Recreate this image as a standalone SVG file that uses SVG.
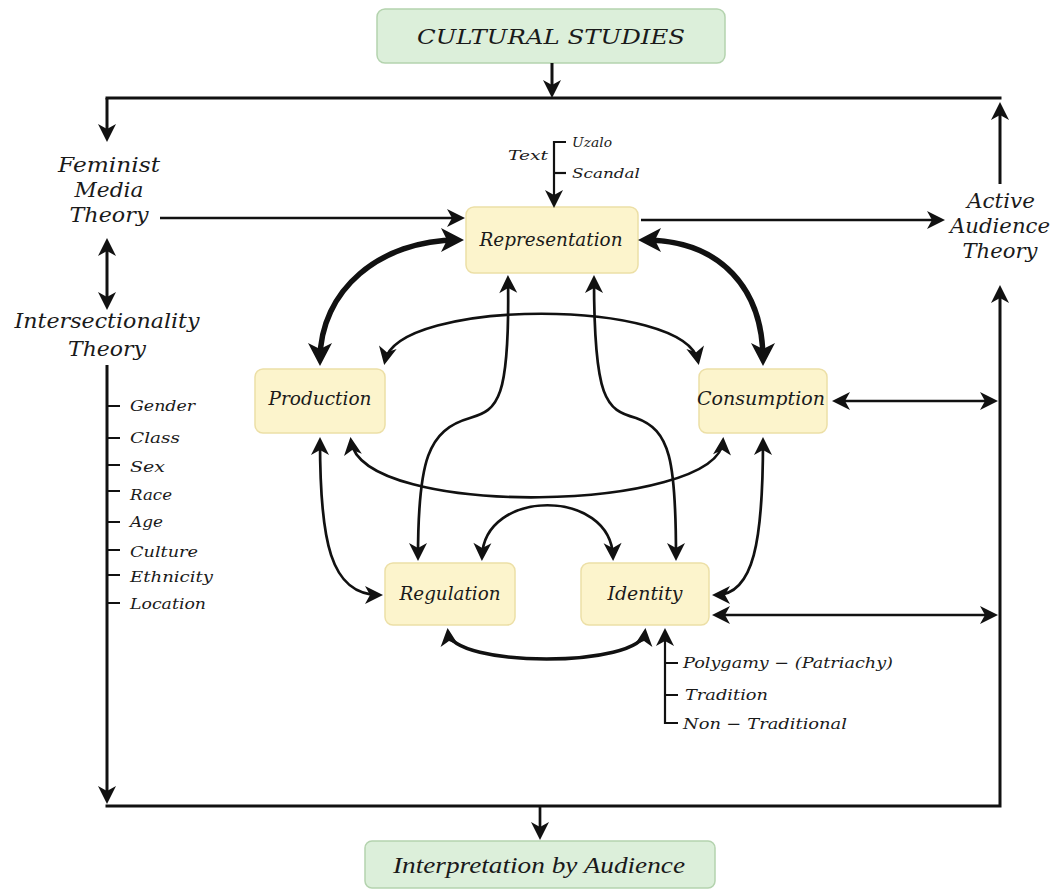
<svg xmlns="http://www.w3.org/2000/svg" width="1055" height="894" viewBox="0 0 1055 894">
<style>
.t{font-family:"DejaVu Serif","Liberation Serif",serif;font-style:italic;fill:#1a1a1a}
.ti{font-family:"Liberation Serif","DejaVu Serif",serif;font-style:italic;fill:#1a1a1a}
.yn{fill:#fcf4cc;stroke:#ecdfa6;stroke-width:1.5}
.gn{fill:#dcefda;stroke:#b4d3ae;stroke-width:1.5}
.fr{fill:none;stroke:#111;stroke-width:3}
.th{fill:none;stroke:#111;stroke-width:2.7}
.tk{fill:none;stroke:#111;stroke-width:5.5}
.ls{fill:none;stroke:#111;stroke-width:2.2}
</style>
<defs>
<marker id="m1" viewBox="-17 -11 23 22" refX="0" refY="0" markerWidth="23" markerHeight="22" markerUnits="userSpaceOnUse" orient="auto-start-reverse"><path d="M4,0 L-14,-9 L-9,0 L-14,9 Z" fill="#111"/></marker>
<marker id="mT" viewBox="-20 -14 28 28" refX="0" refY="0" markerWidth="28" markerHeight="28" markerUnits="userSpaceOnUse" orient="auto-start-reverse"><path d="M6,0 L-17,-12 L-11,0 L-17,12 Z" fill="#111"/></marker>
</defs>

<g id="cultural-studies">
<rect class="gn" x="377" y="9" width="348" height="54" rx="8"/>
<text class="t" x="551" y="44" font-size="21" text-anchor="middle" textLength="268" lengthAdjust="spacingAndGlyphs">CULTURAL STUDIES</text>
</g>
<g id="interpretation">
<rect class="gn" x="365" y="841" width="350" height="47" rx="7"/>
<text class="ti" x="539" y="873" font-size="23" text-anchor="middle" textLength="292" lengthAdjust="spacingAndGlyphs">Interpretation by Audience</text>
</g>
<g id="feminist">
<text class="t" x="109" y="172" font-size="20" text-anchor="middle" textLength="102" lengthAdjust="spacingAndGlyphs">Feminist</text>
<text class="t" x="109" y="197" font-size="20" text-anchor="middle" textLength="69" lengthAdjust="spacingAndGlyphs">Media</text>
<text class="t" x="109" y="222" font-size="20" text-anchor="middle" textLength="79" lengthAdjust="spacingAndGlyphs">Theory</text>
</g>
<g id="intersectionality">
<text class="t" x="107" y="328" font-size="20" text-anchor="middle" textLength="185" lengthAdjust="spacingAndGlyphs">Intersectionality</text>
<text class="t" x="107" y="356" font-size="20" text-anchor="middle" textLength="78" lengthAdjust="spacingAndGlyphs">Theory</text>
</g>
<g id="active-audience">
<text class="t" x="1001" y="208" font-size="20" text-anchor="middle" textLength="68" lengthAdjust="spacingAndGlyphs">Active</text>
<text class="t" x="1000" y="233" font-size="20" text-anchor="middle" textLength="100" lengthAdjust="spacingAndGlyphs">Audience</text>
<text class="t" x="1000" y="258" font-size="20" text-anchor="middle" textLength="75" lengthAdjust="spacingAndGlyphs">Theory</text>
</g>
<g id="representation">
<rect class="yn" x="466" y="207" width="172" height="66" rx="8"/>
<text class="t" x="551" y="246" font-size="18" text-anchor="middle" textLength="143" lengthAdjust="spacingAndGlyphs">Representation</text>
</g>
<g id="production">
<rect class="yn" x="255" y="369" width="130" height="64" rx="8"/>
<text class="t" x="320" y="405" font-size="18" text-anchor="middle" textLength="103" lengthAdjust="spacingAndGlyphs">Production</text>
</g>
<g id="consumption">
<rect class="yn" x="699" y="369" width="128" height="64" rx="8"/>
<text class="t" x="761" y="405" font-size="18" text-anchor="middle" textLength="128" lengthAdjust="spacingAndGlyphs">Consumption</text>
</g>
<g id="regulation">
<rect class="yn" x="385" y="563" width="130" height="62" rx="8"/>
<text class="t" x="450" y="600" font-size="18" text-anchor="middle" textLength="101" lengthAdjust="spacingAndGlyphs">Regulation</text>
</g>
<g id="identity">
<rect class="yn" x="581" y="563" width="128" height="62" rx="8"/>
<text class="t" x="645" y="600" font-size="18" text-anchor="middle" textLength="75" lengthAdjust="spacingAndGlyphs">Identity</text>
</g>

<g id="text-list">
<text class="t" x="548" y="160" font-size="13.5" text-anchor="end" textLength="40" lengthAdjust="spacingAndGlyphs">Text</text>
<text class="t" x="572" y="147" font-size="13.5" textLength="40" lengthAdjust="spacingAndGlyphs">Uzalo</text>
<text class="t" x="572" y="178" font-size="13.5" textLength="68" lengthAdjust="spacingAndGlyphs">Scandal</text>
</g>
<g id="intersection-list">
<text class="t" x="130" y="411" font-size="15.5" textLength="65" lengthAdjust="spacingAndGlyphs">Gender</text>
<text class="t" x="130" y="443" font-size="15.5" textLength="50" lengthAdjust="spacingAndGlyphs">Class</text>
<text class="t" x="130" y="472" font-size="15.5" textLength="35" lengthAdjust="spacingAndGlyphs">Sex</text>
<text class="t" x="130" y="500" font-size="15.5" textLength="42" lengthAdjust="spacingAndGlyphs">Race</text>
<text class="t" x="130" y="527" font-size="15.5" textLength="33" lengthAdjust="spacingAndGlyphs">Age</text>
<text class="t" x="130" y="557" font-size="15.5" textLength="68" lengthAdjust="spacingAndGlyphs">Culture</text>
<text class="t" x="130" y="582" font-size="15.5" textLength="83" lengthAdjust="spacingAndGlyphs">Ethnicity</text>
<text class="t" x="130" y="609" font-size="15.5" textLength="76" lengthAdjust="spacingAndGlyphs">Location</text>
</g>
<g id="identity-list">
<text class="t" x="683" y="668" font-size="15.5" textLength="210" lengthAdjust="spacingAndGlyphs">Polygamy − (Patriachy)</text>
<text class="t" x="685" y="700" font-size="15.5" textLength="83" lengthAdjust="spacingAndGlyphs">Tradition</text>
<text class="t" x="683" y="729" font-size="15.5" textLength="164" lengthAdjust="spacingAndGlyphs">Non − Traditional</text>
</g>

<g id="connectors">
<path class="fr" d="M552 63 L552 94" marker-end="url(#m1)"/>
<path class="fr" d="M105.5 98 L1001.5 98"/>
<path class="fr" d="M107 98 L107 138" marker-end="url(#m1)"/>
<path class="fr" d="M1000 184 L1000 106" marker-end="url(#m1)"/>
<path class="th" d="M160 218 L461 218" marker-end="url(#m1)"/>
<path class="th" d="M641 220 L941 220" marker-end="url(#m1)"/>
<path class="fr" d="M107 242 L107 306" marker-start="url(#m1)" marker-end="url(#m1)"/>
<path class="fr" d="M107 365 L107 800" marker-end="url(#m1)"/>
<path class="fr" d="M105.5 806 L1000 806 L1000 289" marker-end="url(#m1)"/>
<path class="th" d="M540 806 L540 836" marker-end="url(#m1)"/>
<path class="th" d="M836 401 L994 401" marker-start="url(#m1)" marker-end="url(#m1)"/>
<path class="th" d="M716 615 L994 615" marker-start="url(#m1)" marker-end="url(#m1)"/>
<path class="ls" d="M107 406 H120 M107 438 H120 M107 465 H120 M107 491 H120 M107 522 H120 M107 550 H120 M107 575 H120 M107 603 H120"/>
<path class="ls" d="M566 142 L554 142 L554 204" marker-end="url(#m1)"/>
<path class="ls" d="M554 173 L566 173"/>
<path class="ls" d="M678 723 L665 723 L665 632" marker-end="url(#m1)"/>
<path class="ls" d="M665 663 L678 663 M665 695 L678 695"/>
<path class="tk" d="M320 360 C320 290 380 240 458 240" marker-start="url(#mT)" marker-end="url(#mT)"/>
<path class="tk" d="M644 240 C722 240 763 290 763 360" marker-start="url(#mT)" marker-end="url(#mT)"/>
<path class="th" d="M385 361 C398 298 685 298 698 361" marker-start="url(#m1)" marker-end="url(#m1)"/>
<path class="th" d="M508 279 C510 400 498 410 470 418 C428 430 418 460 418 557" marker-start="url(#m1)" marker-end="url(#m1)"/>
<path class="th" d="M594 279 C594 400 606 410 636 418 C670 430 676 460 676 557" marker-start="url(#m1)" marker-end="url(#m1)"/>
<path class="th" d="M351 441 C362 520 718 512 723 441" marker-start="url(#m1)" marker-end="url(#m1)"/>
<path class="th" d="M482 557 C484 488 611 488 613 557" marker-start="url(#m1)" marker-end="url(#m1)"/>
<path class="th" d="M320 441 C320 540 330 595 379 595" marker-start="url(#m1)" marker-end="url(#m1)"/>
<path class="th" d="M763 441 C763 540 754 595 716 595" marker-start="url(#m1)" marker-end="url(#m1)"/>
<path class="th" style="stroke-width:3.5" d="M448 632 C452 668 641 668 645 632" marker-start="url(#m1)" marker-end="url(#m1)"/>
</g>
</svg>
